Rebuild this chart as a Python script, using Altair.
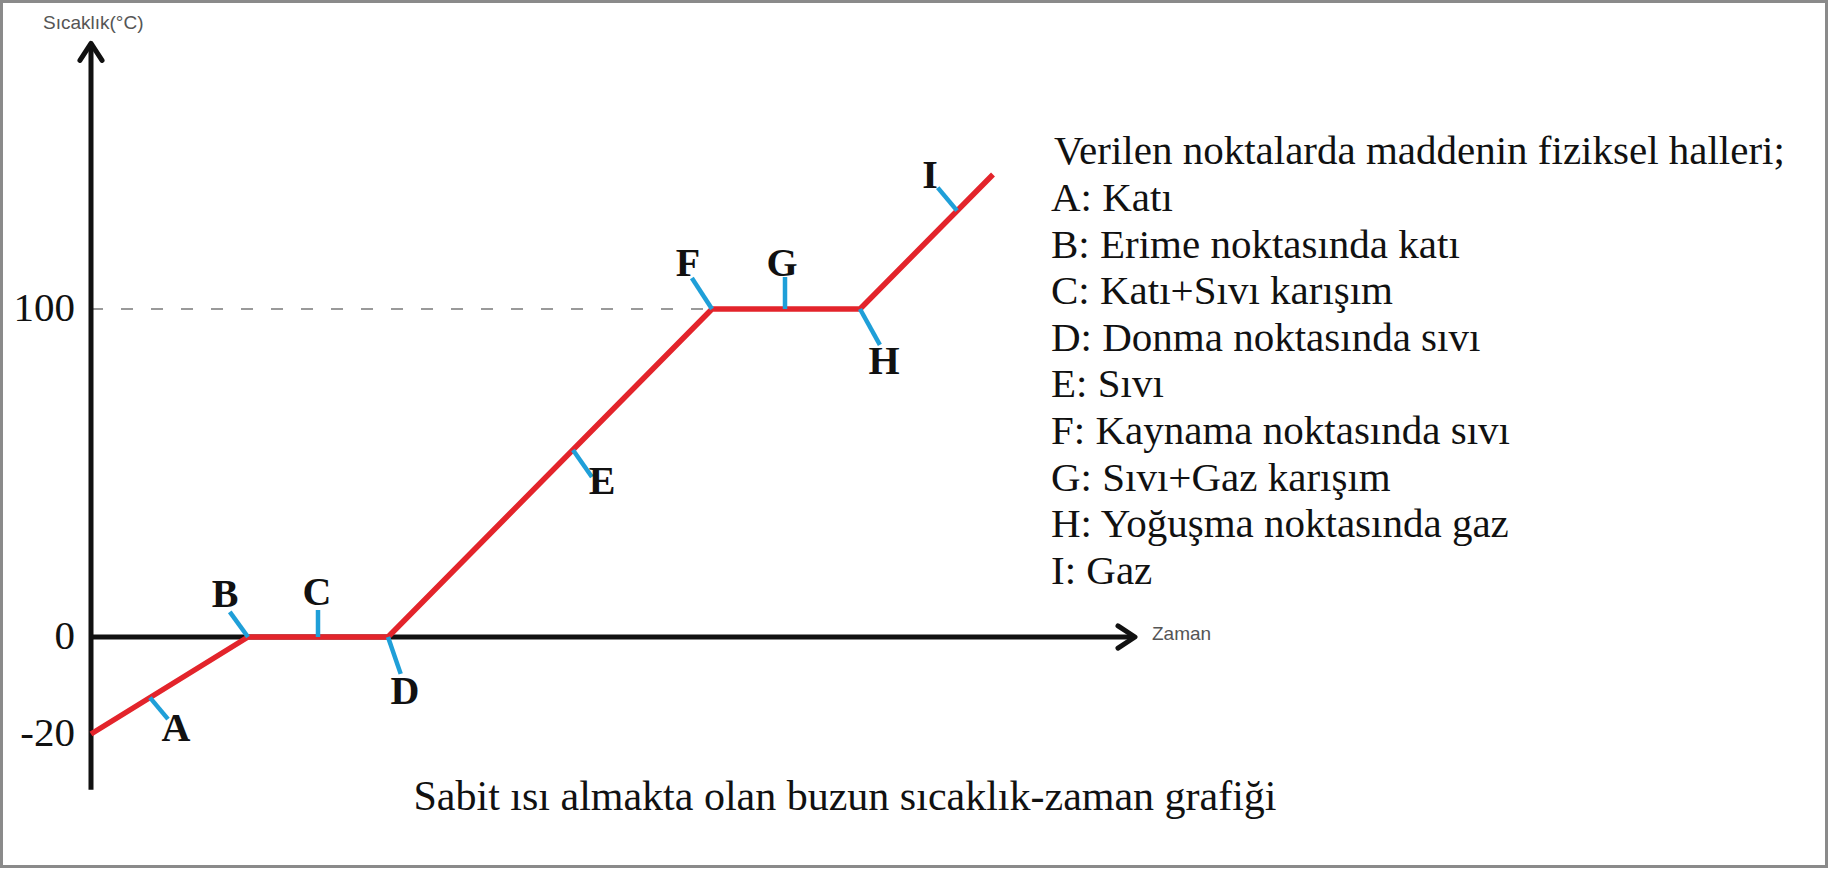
import altair as alt
import pandas as pd

# Heating curve of ice under constant heat input: time (arbitrary units) vs temperature (°C)
curve_time = [0, 15.7, 29.7, 62.1, 76.9, 90.2]
curve_temp = [-20, 0, 0, 100, 100, 141]

# Marked states along the curve
point_names = ["A", "B", "C", "D", "E", "F", "G", "H", "I"]
point_time = [5.9, 15.7, 22.7, 29.7, 48.2, 62.1, 69.4, 76.9, 86.6]
point_temp = [-12.5, 0, 0, 0, 57, 100, 100, 100, 130]

# Temperature labels on the vertical axis
tick_values = [100, 0, -20]
tick_labels = ["100", "0", "-20"]

# Extent of the drawn axis arrows (data units)
time_end = 104.4
temp_low, temp_high = -31.5, 181

y_title = "Sıcaklık(°C)"
x_title = "Zaman"
caption = "Sabit ısı almakta olan buzun sıcaklık-zaman grafiği"
legend_title = "Verilen noktalarda maddenin fiziksel halleri;"
legend_lines = [
    "A: Katı",
    "B: Erime noktasında katı",
    "C: Katı+Sıvı karışım",
    "D: Donma noktasında sıvı",
    "E: Sıvı",
    "F: Kaynama noktasında sıvı",
    "G: Sıvı+Gaz karışım",
    "H: Yoğuşma noktasında gaz",
    "I: Gaz",
]

# Per-point marker styling: marker angle (deg), marker length (px), label offset (px)
marker_angle = {"A": 140, "B": 324, "C": 0, "D": 161, "E": 145, "F": 327, "G": 0, "H": 151, "I": 320}
marker_len = {"A": 28, "B": 31, "C": 27, "D": 39, "E": 33, "F": 37, "G": 32, "H": 41, "I": 30}
label_dx = {"A": 26, "B": -23, "C": -1, "D": 17, "E": 29, "F": -24, "G": -3, "H": 24, "I": -27}
label_dy = {"A": 31, "B": -42, "C": -44, "D": 55, "E": 32, "F": -45, "G": -45, "H": 53, "I": -35}

RED = "#e3242b"
BLUE = "#1f9fd8"
INK = "#111111"
SERIF = "Liberation Serif"
SANS = "Liberation Sans"

W, H = 1828, 869

# Piecewise temperature scale: the sub-zero part is drawn stretched
x_scale = alt.Scale(domain=[0, time_end], range=[91, 1135], nice=False, zero=False)
y_scale = alt.Scale(domain=[-20, 0, 100], range=[734, 637, 309], nice=False, zero=False)


def X(field):
    return alt.X(field, type="quantitative", scale=x_scale, axis=None)


def Y(field):
    return alt.Y(field, type="quantitative", scale=y_scale, axis=None)


curve = pd.DataFrame({"t": curve_time, "temp": curve_temp})
points = pd.DataFrame({"name": point_names, "t": point_time, "temp": point_temp})
points["ang"] = points["name"].map(marker_angle)
points["sz"] = points["name"].map(lambda n: (2 * marker_len[n]) ** 2)

# Dashed guide at the boiling point
guide = alt.Chart(pd.DataFrame({"t": [0], "t2": [curve_time[3]], "temp": [100]})).mark_rule(
    color="#9a9a9a", strokeWidth=2, strokeDash=[12, 18]
).encode(x=X("t"), x2="t2:Q", y=Y("temp"))

# Axis lines
y_axis_line = alt.Chart(pd.DataFrame({"t": [0], "lo": [temp_low], "hi": [temp_high]})).mark_rule(
    color=INK, strokeWidth=5
).encode(x=X("t"), y=Y("lo"), y2="hi:Q")

x_axis_line = alt.Chart(pd.DataFrame({"t": [0], "t2": [time_end], "temp": [0]})).mark_rule(
    color=INK, strokeWidth=5
).encode(x=X("t"), x2="t2:Q", y=Y("temp"))

up_arrow = alt.Chart(pd.DataFrame({"t": [0], "temp": [temp_high]})).mark_point(
    shape="M-0.65,1L0,0L0.65,1", size=1156, filled=False, stroke=INK, strokeWidth=5,
    strokeJoin="round", strokeCap="round", opacity=1
).encode(x=X("t"), y=Y("temp"))

right_arrow = alt.Chart(pd.DataFrame({"t": [time_end], "temp": [0]})).mark_point(
    shape="M-1,-0.65L0,0L-1,0.65", size=1156, filled=False, stroke=INK, strokeWidth=5,
    strokeJoin="round", strokeCap="round", opacity=1
).encode(x=X("t"), y=Y("temp"))

# Heating curve
line = alt.Chart(curve).mark_line(color=RED, strokeWidth=5.5, strokeJoin="round").encode(
    x=X("t"), y=Y("temp"), order="t:Q"
)

# Short markers at the labelled points
markers = alt.Chart(points).mark_point(
    shape="M0,0L0,-1", filled=False, stroke=BLUE, strokeWidth=4.5, opacity=1, strokeCap="butt"
).encode(
    x=X("t"), y=Y("temp"),
    angle=alt.Angle("ang:Q", scale=None),
    size=alt.Size("sz:Q", scale=None),
)

# Point letters
letter_layers = []
for name in point_names:
    letter_layers.append(
        alt.Chart(points[points["name"] == name]).mark_text(
            font=SERIF, fontWeight="bold", fontSize=40, color=INK,
            align="center", baseline="middle",
            dx=label_dx[name], dy=label_dy[name],
        ).encode(x=X("t"), y=Y("temp"), text="name:N")
    )

# Temperature labels
ticks = alt.Chart(pd.DataFrame({
    "t": [0] * len(tick_values), "temp": tick_values, "label": tick_labels
})).mark_text(
    font=SERIF, fontSize=41, color=INK, align="right", baseline="middle", dx=-16
).encode(x=X("t"), y=Y("temp"), text="label:N")

one = pd.DataFrame({"k": [0]})

y_title_text = alt.Chart(one).mark_text(
    text=y_title, font=SANS, fontSize=19, color="#555555", align="left", baseline="alphabetic"
).encode(x=alt.value(43), y=alt.value(29))

x_title_text = alt.Chart(one).mark_text(
    text=x_title, font=SANS, fontSize=19, color="#555555", align="left", baseline="alphabetic"
).encode(x=alt.value(1152), y=alt.value(640))

legend_head = alt.Chart(one).mark_text(
    text=legend_title, font=SERIF, fontSize=41, color=INK, align="left", baseline="alphabetic"
).encode(x=alt.value(1054), y=alt.value(164))

legend_body = alt.Chart(one).mark_text(
    text=legend_lines, font=SERIF, fontSize=41, color=INK, align="left", baseline="alphabetic",
    lineHeight=46.6
).encode(x=alt.value(1051), y=alt.value(211))

caption_text = alt.Chart(one).mark_text(
    text=caption, font=SERIF, fontSize=42, color=INK, align="center", baseline="alphabetic"
).encode(x=alt.value(845), y=alt.value(810))

frame = alt.Chart(one).mark_rect(filled=False, stroke="#8a8a8a", strokeWidth=3).encode(
    x=alt.value(1.5), x2=alt.value(1826.5), y=alt.value(1.5), y2=alt.value(866.5)
)

chart = alt.layer(
    frame, guide, y_axis_line, x_axis_line, line, markers, up_arrow, right_arrow,
    *letter_layers, ticks, y_title_text, x_title_text, legend_head, legend_body, caption_text,
).properties(
    width=W, height=H, padding=0, autosize=alt.AutoSizeParams(type="none"), background="white"
).configure_view(stroke=None)

chart.save("out.html", embed_options={"renderer": "svg", "actions": False})
